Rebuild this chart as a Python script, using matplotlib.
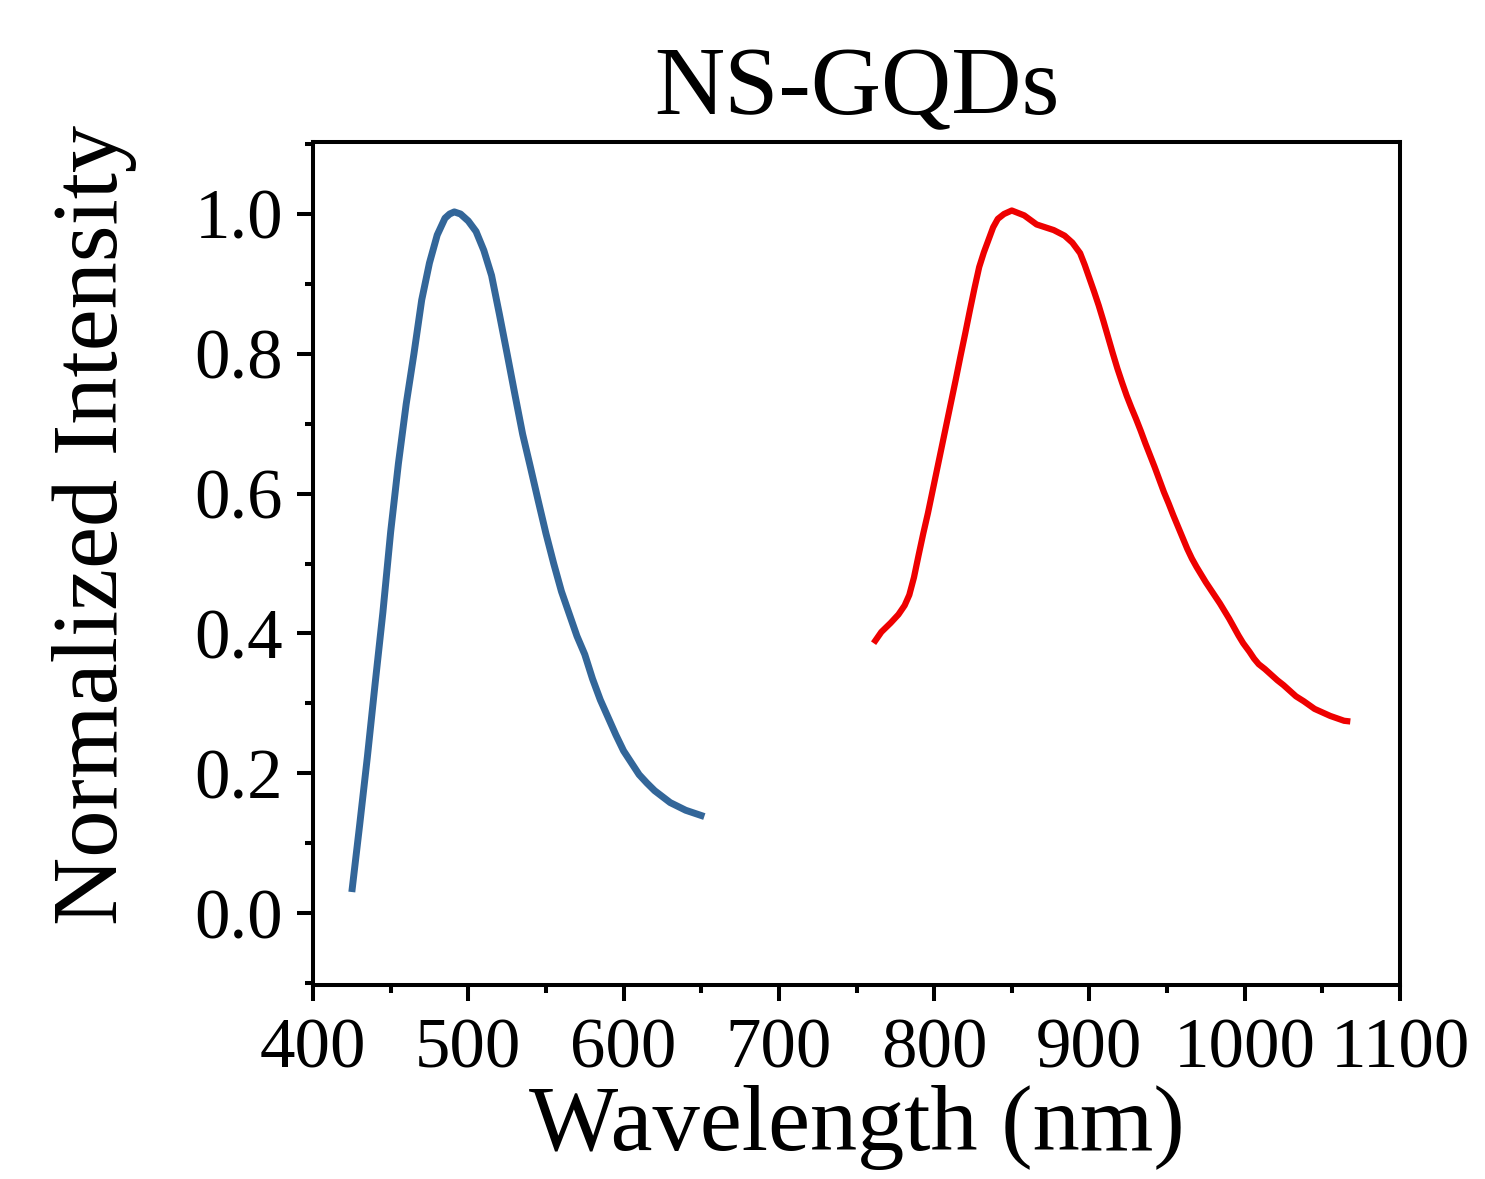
import matplotlib
matplotlib.use("Agg")
import matplotlib.pyplot as plt
from matplotlib.ticker import MultipleLocator

# blue emission band (nm, normalized intensity)
blue_nm = [425, 430, 435, 440, 445, 450, 455, 460, 465, 470, 475, 480, 485,
           488, 491, 495, 500, 505, 510, 515, 520, 525, 530, 535, 540, 545,
           550, 555, 560, 565, 570, 575, 580, 585, 590, 595, 600, 605, 610,
           615, 620, 630, 640, 652]
blue_int = [0.03, 0.125, 0.223, 0.328, 0.43, 0.545, 0.643, 0.728, 0.80, 0.877,
            0.93, 0.97, 0.994, 1.0, 1.003, 1.0, 0.99, 0.975, 0.948, 0.912,
            0.857, 0.80, 0.742, 0.685, 0.638, 0.59, 0.543, 0.50, 0.46, 0.428,
            0.396, 0.37, 0.335, 0.305, 0.28, 0.255, 0.232, 0.215, 0.198,
            0.186, 0.175, 0.158, 0.147, 0.138]

# red / NIR emission band
red_nm = [761, 766, 772, 777, 781, 784, 787, 790, 793, 796, 799, 802, 805,
          808, 811, 814, 817, 820, 823, 826, 829, 832, 835, 838, 841, 845,
          850, 858, 866, 877, 884, 889, 894, 897, 900, 903, 906, 909, 912,
          915, 918, 921, 924, 927, 930, 933, 936, 939, 942, 945, 948, 951,
          954, 957, 960, 963, 966, 969, 972, 975, 978, 981, 984, 987, 990,
          993, 996, 999, 1003, 1006, 1009, 1013, 1017, 1021, 1025, 1029,
          1033, 1038, 1045, 1055, 1064, 1068]
red_int = [0.386, 0.402, 0.415, 0.427, 0.440, 0.455, 0.480, 0.512, 0.543,
           0.572, 0.604, 0.636, 0.668, 0.700, 0.732, 0.764, 0.797, 0.829,
           0.862, 0.894, 0.924, 0.945, 0.963, 0.981, 0.993, 1.000, 1.005,
           0.998, 0.985, 0.977, 0.969, 0.959, 0.944, 0.927, 0.908, 0.889,
           0.869, 0.847, 0.824, 0.801, 0.779, 0.759, 0.740, 0.723, 0.707,
           0.690, 0.672, 0.655, 0.638, 0.620, 0.602, 0.586, 0.569, 0.553,
           0.537, 0.521, 0.507, 0.495, 0.484, 0.473, 0.463, 0.453, 0.443,
           0.432, 0.421, 0.409, 0.397, 0.386, 0.374, 0.364, 0.356, 0.349,
           0.341, 0.333, 0.326, 0.318, 0.310, 0.303, 0.292, 0.282, 0.275,
           0.274]

x_ticks = [400, 500, 600, 700, 800, 900, 1000, 1100]
y_ticks = [0.0, 0.2, 0.4, 0.6, 0.8, 1.0]

plt.rcParams["font.family"] = ["Liberation Serif", "DejaVu Serif"]

fig = plt.figure(figsize=(14.85, 11.79), dpi=100)
ax = fig.add_axes([313 / 1485, 194 / 1179, 1087 / 1485, 843 / 1179])

ax.plot(blue_nm, blue_int, color="#336699", lw=5.0, solid_capstyle="butt")
ax.plot(red_nm, red_int, color="#EE0000", lw=4.5, solid_capstyle="butt")

ax.set_xlim(400, 1100)
ax.set_ylim(-0.103, 1.103)
ax.set_xticks(x_ticks)
ax.set_xticklabels([str(v) for v in x_ticks])
ax.set_yticks(y_ticks)
ax.set_yticklabels([f"{v:.1f}" for v in y_ticks])
ax.xaxis.set_minor_locator(MultipleLocator(50))
ax.yaxis.set_minor_locator(MultipleLocator(0.1))

for sp in ax.spines.values():
    sp.set_linewidth(2.9)

ax.tick_params(which="major", direction="out", length=11.5, width=2.9,
               labelsize=51, pad=10)
ax.tick_params(which="minor", direction="out", length=5.5, width=2.9)
ax.tick_params(axis="x", which="major", pad=12)

ax.set_xlabel("Wavelength (nm)", fontsize=68, labelpad=2)
ax.set_ylabel("Normalized Intensity", fontsize=68)
ax.yaxis.set_label_coords(-0.162, 0.546)
ax.set_title("NS-GQDs", fontsize=70, pad=20)

fig.savefig("out.png", dpi=100)
